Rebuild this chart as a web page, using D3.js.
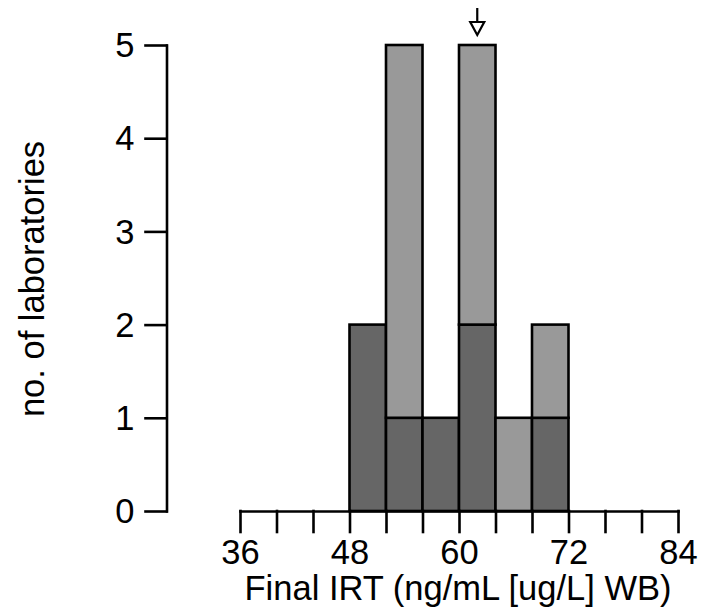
<!DOCTYPE html>
<html>
<head>
<meta charset="utf-8">
<script src="https://cdn.jsdelivr.net/npm/d3@7"></script>
<style>
  html, body { margin: 0; padding: 0; background: #fff; }
  svg { display: block; }
  text { font-family: "Liberation Sans", Arial, sans-serif; fill: #000; }
</style>
</head>
<body>
<svg id="chart" width="711" height="608"></svg>
<script>
// Histogram bins (lower edge, width 4) and laboratory counts per bin
const binStarts = [48, 52, 56, 60, 64, 68];
const binWidth = 4;
const darkCounts = [2, 1, 1, 2, 0, 1];   // lower (dark) segment
const lightCounts = [0, 4, 0, 3, 1, 1];  // upper (light) segment
const xTicks = [36, 40, 44, 48, 52, 56, 60, 64, 68, 72, 76, 80, 84];
const xTickLabels = [36, 48, 60, 72, 84];
const yTicks = [0, 1, 2, 3, 4, 5];
const targetValue = 62;

const svg = d3.select("#chart");
const x = d3.scaleLinear().domain([36, 84]).range([240, 678]);
const y = d3.scaleLinear().domain([0, 5]).range([511, 45]);

const lw = 2.6;
const fs = 34.5;

// Stacked bars
const bars = binStarts.map((s, i) => ({ s, dark: darkCounts[i], light: lightCounts[i] }));
const g = svg.append("g");
bars.forEach(b => {
  if (b.dark > 0) {
    g.append("rect")
      .attr("x", x(b.s)).attr("width", x(b.s + binWidth) - x(b.s))
      .attr("y", y(b.dark)).attr("height", y(0) - y(b.dark))
      .attr("fill", "#666666").attr("stroke", "#000").attr("stroke-width", lw);
  }
  if (b.light > 0) {
    g.append("rect")
      .attr("x", x(b.s)).attr("width", x(b.s + binWidth) - x(b.s))
      .attr("y", y(b.dark + b.light)).attr("height", y(b.dark) - y(b.dark + b.light))
      .attr("fill", "#999999").attr("stroke", "#000").attr("stroke-width", lw);
  }
});

// Y axis
const yAxis = svg.append("g")
  .attr("transform", "translate(166.5,0)")
  .call(d3.axisLeft(y).tickValues(yTicks).tickFormat(d3.format("d"))
    .tickSize(21).tickSizeOuter(0).tickPadding(11));
yAxis.select(".domain").attr("stroke-width", lw);
yAxis.selectAll(".tick line").attr("stroke-width", lw);
yAxis.selectAll(".tick text").attr("font-size", fs).attr("dy", "0.34em")
  .style("font-family", "'Liberation Sans', Arial, sans-serif");

// X axis
const xAxis = svg.append("g")
  .attr("transform", "translate(0,511)")
  .call(d3.axisBottom(x).tickValues(xTicks)
    .tickFormat(d => xTickLabels.includes(d) ? d : "")
    .tickSize(21).tickSizeOuter(0).tickPadding(8));
xAxis.select(".domain").attr("stroke-width", lw);
xAxis.selectAll(".tick line").attr("stroke-width", lw);
xAxis.selectAll(".tick text").attr("font-size", fs)
  .style("font-family", "'Liberation Sans', Arial, sans-serif");
svg.selectAll(".domain, .tick line").attr("stroke-linecap", "square");

// Axis titles
svg.append("text")
  .attr("x", (x(36) + x(84)) / 2 - 1).attr("y", 600)
  .attr("text-anchor", "middle").attr("font-size", fs)
  .text("Final IRT (ng/mL [ug/L] WB)");

svg.append("text")
  .attr("transform", "translate(44," + (y(2.5) + 1) + ") rotate(-90)")
  .attr("text-anchor", "middle").attr("font-size", fs)
  .text("no. of laboratories");

// Arrow marking the target value
const ax = x(targetValue);
svg.append("line")
  .attr("x1", ax).attr("x2", ax).attr("y1", 8).attr("y2", 22)
  .attr("stroke", "#000").attr("stroke-width", 2.2);
svg.append("path")
  .attr("d", `M${ax - 7},22 L${ax + 7},22 L${ax},35 Z`)
  .attr("fill", "#fff").attr("stroke", "#000").attr("stroke-width", 2.2)
  .attr("stroke-linejoin", "miter");
</script>
</body>
</html>
